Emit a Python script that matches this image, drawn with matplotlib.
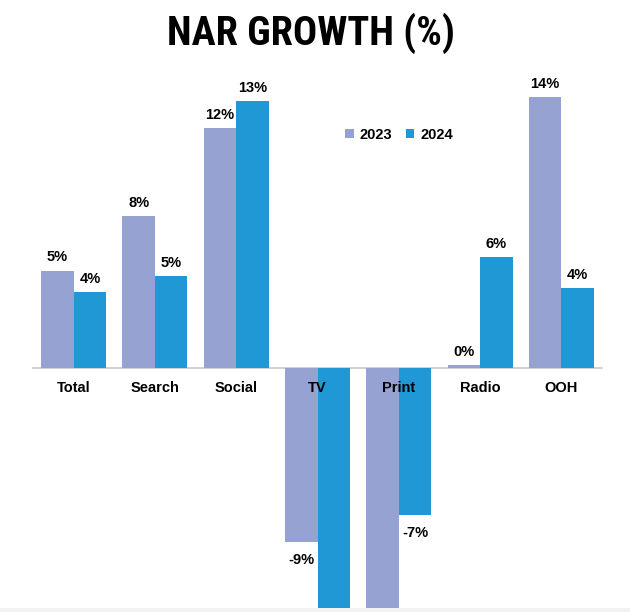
import numpy as np
import matplotlib.pyplot as plt
from matplotlib.patches import Rectangle

# values (TV 2024 and Print 2023 run off the bottom)
categories = ['Total', 'Search', 'Social', 'TV', 'Print', 'Radio', 'OOH']
growth_2023 = [5.0, 7.8, 12.3, -8.9, -14.0, 0.15, 13.9]
growth_2024 = [3.9, 4.7, 13.7, -14.5, -7.55, 5.7, 4.1]
labels_2023 = ['5%', '8%', '12%', '-9%', '', '0%', '14%']
labels_2024 = ['4%', '5%', '13%', '', '-7%', '6%', '4%']

c2023 = '#96a2d2'
c2024 = '#1f98d5'

plt.rcParams['font.family'] = ['Liberation Sans', 'DejaVu Sans']

fig = plt.figure(figsize=(6.3, 6.12), dpi=100)
ax = fig.add_axes([33 / 630, 4 / 612, 569 / 630, 532.5 / 612])

x = np.arange(len(categories))
w = 0.4
b1 = ax.bar(x - w / 2, growth_2023, w, color=c2023, label='2023')
b2 = ax.bar(x + w / 2, growth_2024, w, color=c2024, label='2024')

for bars, labs in ((b1, labels_2023), (b2, labels_2024)):
    for bar, lab in zip(bars, labs):
        h = bar.get_height()
        xc = bar.get_x() + bar.get_width() / 2
        off = 4.5 if h >= 0 else -8
        ax.annotate(lab, (xc, h), xytext=(0, off), textcoords='offset points',
                    ha='center', va='bottom' if h >= 0 else 'top',
                    fontsize=10.5, fontweight='bold')

ax.set_xlim(-0.5, len(categories) - 0.5)
ax.set_ylim(-12.3, 15)

for s in ['top', 'right', 'left']:
    ax.spines[s].set_visible(False)
ax.spines['bottom'].set_position(('data', 0))
ax.spines['bottom'].set_color('#c8c8c8')
ax.spines['bottom'].set_linewidth(1.2)
ax.spines['bottom'].set_zorder(0.5)
ax.set_yticks([])
ax.set_xticks(x)
ax.set_xticklabels(categories, fontsize=10.5, fontweight='bold')
ax.tick_params(axis='x', length=0, pad=9.5)

leg = ax.legend(loc='center', ncol=2, frameon=False,
                handlelength=0.6, handleheight=0.6, handletextpad=0.4,
                columnspacing=0.9, prop={'weight': 'bold', 'size': 10.5})
leg.set_bbox_to_anchor((399 / 630, 1 - 135 / 612), transform=fig.transFigure)

fig.text(311 / 630, 1 - 33 / 612, 'NAR GROWTH (%)', ha='center', va='center',
         fontsize=29, fontweight='bold',
         family=['Roboto Condensed', 'Liberation Sans Narrow', 'DejaVu Sans'])

fig.patches.append(Rectangle((0, 0), 1, 4 / 612, transform=fig.transFigure,
                             facecolor='#f2f2f2', edgecolor='none', zorder=5))

fig.savefig('out.png', dpi=100)
